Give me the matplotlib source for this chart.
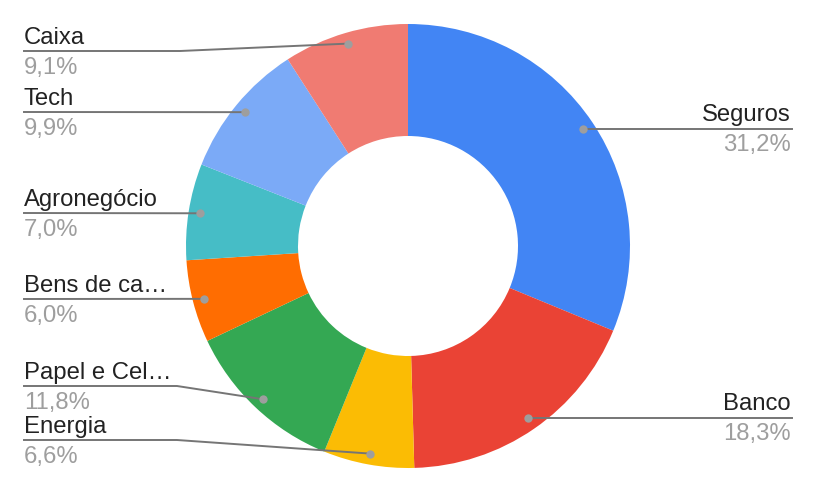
import numpy as np
import matplotlib
matplotlib.use('Agg')
import matplotlib.pyplot as plt

plt.rcParams['font.family'] = ['Liberation Sans', 'DejaVu Sans']

# Data
labels = ['Seguros', 'Banco', 'Energia', 'Papel e Cel…', 'Bens de ca…',
          'Agronegócio', 'Tech', 'Caixa']
values = [31.2, 18.3, 6.6, 11.8, 6.0, 7.0, 9.9, 9.1]
colors = ['#4285F4', '#EA4335', '#FBBC04', '#34A853', '#FF6D01',
          '#46BDC6', '#7BAAF7', '#F07B72']

# Layout (pixel coords, y down)
W, H = 816, 492
cx, cy = 408, 246
r_out, r_in = 222, 110
r_dot = 211
# y of each leader line (px), elbow x for slanted ones
line_y = [129, 418, 440, 386, 299, 213, 112, 51]
elbow_x = [None, None, 177, 177, None, None, None, 180]

fig = plt.figure(figsize=(W / 100, H / 100), dpi=100)
ax = fig.add_axes([0, 0, 1, 1])

wedges, _ = ax.pie(values, colors=colors, startangle=90, counterclock=False,
                   center=(cx, H - cy), radius=r_out,
                   wedgeprops=dict(width=r_out - r_in, linewidth=0))

ax.set_xlim(0, W)
ax.set_ylim(0, H)
ax.set_aspect('equal')
ax.axis('off')

line_c = '#757575'
dot_c = '#9E9E9E'
name_c = '#222222'
pct_c = '#9E9E9E'
fs = 17.2

for w, lab, v, ly, ex in zip(wedges, labels, values, line_y, elbow_x):
    ang = np.deg2rad((w.theta1 + w.theta2) / 2)
    dx = cx + r_dot * np.cos(ang)
    dy = (H - cy) + r_dot * np.sin(ang)
    Ly = H - ly
    pct = f"{v:.1f}".replace('.', ',') + '%'
    if dx > cx:
        ax.plot([dx, 792], [Ly, Ly], color=line_c, lw=1.4, zorder=3)
        dy = Ly
        ax.text(791, Ly + 8, lab, ha='right', va='baseline', fontsize=fs, color=name_c)
        ax.text(791, Ly - 22, pct, ha='right', va='baseline', fontsize=fs, color=pct_c)
    else:
        xs = [24]
        ys = [Ly]
        if ex is not None:
            xs.append(ex)
            ys.append(Ly)
        xs.append(dx)
        ys.append(dy)
        ax.plot(xs, ys, color=line_c, lw=1.4, zorder=3)
        ax.text(24, Ly + 7, lab, ha='left', va='baseline', fontsize=fs, color=name_c)
        ax.text(24, Ly - 23, pct, ha='left', va='baseline', fontsize=fs, color=pct_c)
    ax.plot([dx], [dy], 'o', color=dot_c, ms=6, mec='none', zorder=4)

fig.savefig('out.png', dpi=100, facecolor='white')
